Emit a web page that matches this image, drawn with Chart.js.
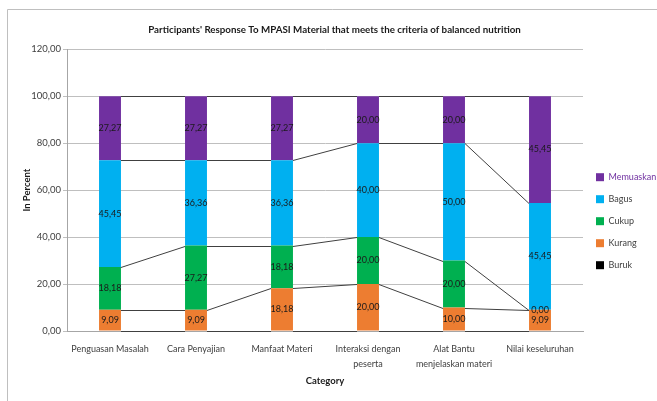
<!DOCTYPE html>
<html>
<head>
<meta charset="utf-8">
<script src="https://cdn.jsdelivr.net/npm/chart.js@4"></script>
<style>
  html, body { margin: 0; padding: 0; background: #fff; }
  #wrap { position: relative; width: 657px; height: 401px; }
</style>
</head>
<body>
<div id="wrap"><canvas id="chart"></canvas></div>
<script>
// Data
const categories = [
    ['Penguasan Masalah'],
    ['Cara Penyajian'],
    ['Manfaat Materi'],
    ['Interaksi dengan', 'peserta'],
    ['Alat Bantu', 'menjelaskan materi'],
    ['Nilai keseluruhan']
];
const buruk = [0, 0, 0, 0, 0, 0];
const kurang = [9.09, 9.09, 18.18, 20.00, 10.00, 9.09];
const cukup = [18.18, 27.27, 18.18, 20.00, 20.00, 0.00];
const bagus = [45.45, 36.36, 36.36, 40.00, 50.00, 45.45];
const memuaskan = [27.27, 27.27, 27.27, 20.00, 20.00, 45.45];

const FONT = "Lato, 'Liberation Sans', sans-serif";
const fmt = v => v.toFixed(2).replace('.', ',');

// Excel-style frame (left + top edge only)
const framePlugin = {
    id: 'frame',
    beforeDraw(chart) {
        const c = chart.ctx;
        c.save();
        c.strokeStyle = '#bfbfbf';
        c.lineWidth = 1;
        c.beginPath();
        c.moveTo(7.5, 401);
        c.lineTo(7.5, 9.5);
        c.lineTo(657, 9.5);
        c.stroke();
        c.restore();
    }
};

// series lines between bar edges + value labels
const seriesPlugin = {
    id: 'seriesLines',
    afterDatasetsDraw(chart) {
        const c = chart.ctx;
        c.save();
        c.strokeStyle = '#404040';
        c.lineWidth = 1;
        chart.data.datasets.forEach((ds, di) => {
            const meta = chart.getDatasetMeta(di);
            for (let i = 0; i < meta.data.length - 1; i++) {
                const a = meta.data[i], b = meta.data[i + 1];
                c.beginPath();
                c.moveTo(a.x + a.width / 2, Math.round(a.y) + 0.5);
                c.lineTo(b.x - b.width / 2, Math.round(b.y) + 0.5);
                c.stroke();
            }
        });
        c.fillStyle = '#1a1a1a';
        c.font = '9px ' + FONT;
        c.textAlign = 'center';
        c.textBaseline = 'middle';
        chart.data.datasets.forEach((ds, di) => {
            if (!ds.showValues) return;
            const meta = chart.getDatasetMeta(di);
            meta.data.forEach((bar, i) => {
                const y = (bar.y + bar.base) / 2;
                c.fillText(fmt(ds.data[i]), bar.x, y);
            });
        });
        c.restore();
    }
};

new Chart(document.getElementById('chart'), {
    type: 'bar',
    data: {
        labels: categories,
        datasets: [
            { label: 'Buruk', data: buruk, backgroundColor: '#000000', showValues: false },
            { label: 'Kurang', data: kurang, backgroundColor: '#ED7D31', showValues: true },
            { label: 'Cukup', data: cukup, backgroundColor: '#00B050', showValues: true },
            { label: 'Bagus', data: bagus, backgroundColor: '#00B0F0', showValues: true },
            { label: 'Memuaskan', data: memuaskan, backgroundColor: '#7030A0', showValues: true }
        ]
    },
    options: {
        responsive: true,
        maintainAspectRatio: false,
        animation: false,
        categoryPercentage: 0.5,
        barPercentage: 0.51,
        layout: { padding: { top: 14, left: 12, right: 0, bottom: 10 } },
        plugins: {
            title: {
                display: true,
                text: "Participants' Response To MPASI Material that meets the criteria of balanced nutrition",
                color: '#1a1a1a',
                font: { family: FONT, size: 9.75, weight: 'bold' },
                padding: { top: 10, bottom: 13.5 }
            },
            legend: {
                position: 'right',
                reverse: true,
                maxWidth: 74,
                title: { display: true, text: '', padding: { top: 12, bottom: 11 } },
                labels: {
                    boxWidth: 8,
                    boxHeight: 8,
                    padding: 13,
                    font: { family: FONT, size: 9 },
                    generateLabels(chart) {
                        return chart.data.datasets.map((ds, i) => ({
                            text: ds.label,
                            fillStyle: ds.backgroundColor,
                            strokeStyle: ds.backgroundColor,
                            lineWidth: 0,
                            fontColor: ds.label === 'Memuaskan' ? '#7030A0' : '#404040',
                            datasetIndex: i
                        }));
                    }
                }
            },
            tooltip: { enabled: false }
        },
        scales: {
            x: {
                stacked: true,
                grid: { display: false, drawTicks: false },
                border: { color: '#a6a6a6' },
                afterFit: scale => { scale.height = 60; },
                ticks: {
                    color: '#404040',
                    padding: 11,
                    autoSkip: false,
                    maxRotation: 0,
                    font: { family: FONT, size: 9, lineHeight: 1.6 }
                },
                title: {
                    display: true,
                    text: 'Category',
                    color: '#1a1a1a',
                    font: { family: FONT, size: 9.5, weight: 'bold' },
                    padding: { top: 0, bottom: 4 }
                }
            },
            y: {
                stacked: true,
                min: 0,
                max: 120,
                grid: { color: '#bfbfbf', tickLength: 4 },
                border: { color: '#a6a6a6' },
                afterFit: scale => { scale.width = 55; },
                ticks: {
                    stepSize: 20,
                    color: '#404040',
                    padding: 2,
                    font: { family: FONT, size: 9.5 },
                    callback: v => fmt(v)
                },
                title: {
                    display: true,
                    text: 'In Percent',
                    color: '#1a1a1a',
                    font: { family: FONT, size: 9.5, weight: 'bold' },
                    padding: { top: 9, bottom: 0 }
                }
            }
        }
    },
    plugins: [framePlugin, seriesPlugin]
});
</script>
</body>
</html>
